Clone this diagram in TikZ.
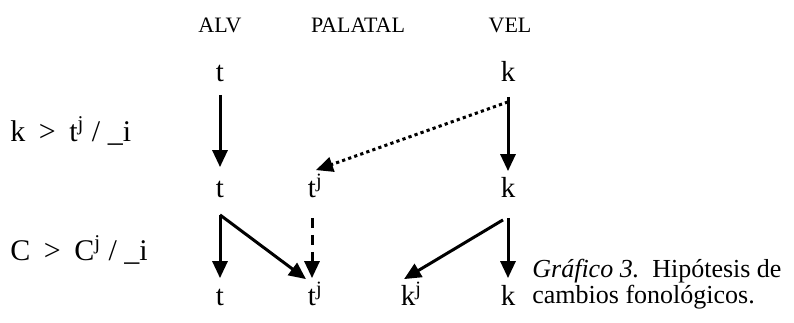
\documentclass[tikz,border=0pt]{standalone}
\usepackage{fontspec}
\setmainfont{Liberation Serif}
\usetikzlibrary{arrows.meta}

\tikzset{
  seg/.style={inner sep=0pt, text height=9.5pt, text depth=0pt, font=\fontsize{14.5}{17}\selectfont},
  head/.style={inner sep=0pt, font=\fontsize{11}{13}\selectfont},
  rule/.style={inner sep=0pt, anchor=west, font=\fontsize{15}{18}\selectfont},
  arr/.style={line width=1.5pt, -{Triangle[width=7.5pt,length=8.5pt]}},
  dotarr/.style={arr, dash pattern=on 1.6pt off 1.6pt},
  dasharr/.style={arr, dash pattern=on 5pt off 3.5pt}
}

\begin{document}
\begin{tikzpicture}[x=0.5pt, y=-0.5pt]
\useasboundingbox (0,0) rectangle (794,322);

% Headers
\node[head] (alv) at (220,25) {ALV};
\node[head] (pal) at (358,25) {PALATAL};
\node[head] (vel) at (510,25) {VEL};

% Rules
\node[rule] (rulek) at (10,131) {k\hspace{0.45em}>\hspace{0.45em}t\textsuperscript{j} / \_i};
\node[rule] (rulec) at (10,250) {C\hspace{0.45em}>\hspace{0.45em}C\textsuperscript{j} / \_i};

% Row 1
\node[seg] (ta) at (220,72) {t};
\node[seg] (ka) at (508,72) {k};

% Row 2
\node[seg] (tb) at (220,188) {t};
\node[seg] (tjb) at (312,188) {t\rlap{\textsuperscript{j}}};
\node[seg] (kb) at (508,188) {k};

% Row 3
\node[seg] (tc) at (220,296) {t};
\node[seg] (tjc) at (312,296) {t\rlap{\textsuperscript{j}}};
\node[seg] (kjc) at (408,296) {k\rlap{\textsuperscript{j}}};
\node[seg] (kc) at (508,296) {k};

% k > tj
\draw[arr, shorten <=6.5pt, shorten >=5.5pt] (ta) -- (tb);
\draw[arr, shorten <=7.5pt, shorten >=3.5pt] (ka) -- (kb);
\draw[dotarr] ([yshift=-10pt]ka.south) -- ([xshift=2pt,yshift=4pt]tjb.north);

% C > Cj
\draw[arr, shorten <=8.5pt, shorten >=4pt] (tb) -- (tc);
\draw[arr] ([yshift=-8.5pt]tb.south) -- ([xshift=-3pt,yshift=3.5pt]tjc.north);
\draw[dasharr, shorten <=10pt, shorten >=4pt] (tjb) -- (tjc);
\draw[arr] ([xshift=-2.5pt,yshift=-11pt]kb.south) -- ([xshift=-2pt,yshift=3.5pt]kjc.north);
\draw[arr, shorten <=10pt, shorten >=4pt] (kb) -- (kc);

% Caption
\node[inner sep=0pt, anchor=north west, align=left, font=\fontsize{13}{12.8}\selectfont] (caption) at (532,259)
  {\textit{Gráfico 3.}\ \ Hipótesis de\\cambios fonológicos.};
\end{tikzpicture}
\end{document}
